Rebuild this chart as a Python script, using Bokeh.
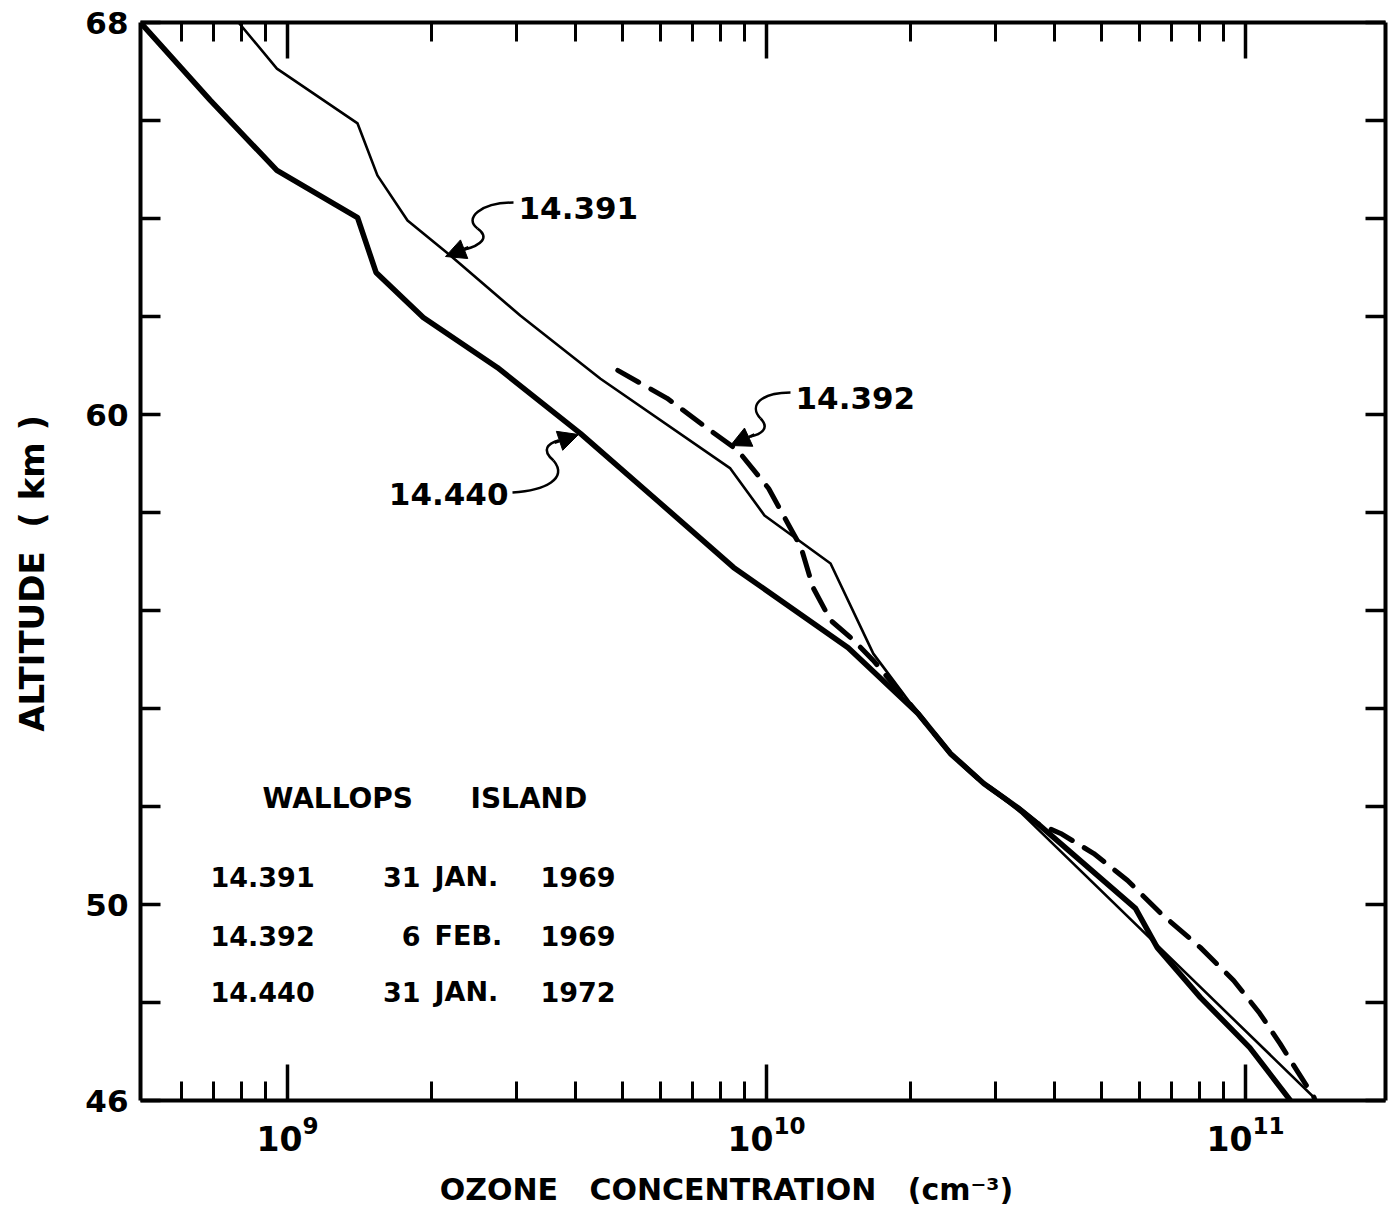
from bokeh.plotting import figure
from bokeh.models import (LogAxis, LinearAxis, FixedTicker, Label, Arrow,
                          NormalHead, Range1d)
from bokeh.embed import file_html
from bokeh.resources import INLINE

# ---------------- data ----------------
alt_391 = [68.0, 67.06, 65.94, 64.88, 63.96, 63.24, 62.02, 60.73, 58.9, 57.94,
           56.96, 55.12, 53.9, 53.08, 52.47, 51.88, 46.0]
conc_391 = [7.9e8, 9.5e8, 1.40e9, 1.54e9, 1.78e9, 2.19e9, 3.06e9, 4.5e9, 8.4e9,
            9.9e9, 1.36e10, 1.67e10, 2.07e10, 2.42e10, 2.84e10, 3.39e10, 1.41e11]

alt_392 = [60.9, 60.33, 59.67, 59.27, 58.49, 57.69, 57.29, 56.47, 55.8, 55.39,
           54.98, 53.9, 53.08, 52.47, 51.98, 51.65, 51.45, 51.04, 50.49, 49.82,
           49.12, 48.45, 47.78, 47.16, 46.61, 46.06]
conc_392 = [4.89e9, 6.2e9, 7.64e9, 8.7e9, 1.01e10, 1.12e10, 1.18e10, 1.25e10,
            1.36e10, 1.52e10, 1.67e10, 2.07e10, 2.42e10, 2.84e10, 3.34e10,
            3.68e10, 4.11e10, 4.82e10, 5.67e10, 6.65e10, 8.05e10, 9.44e10,
            1.07e11, 1.18e11, 1.28e11, 1.39e11]

alt_440 = [68.0, 66.41, 64.98, 64.02, 62.9, 61.98, 60.96, 59.61, 58.24, 56.88,
           55.24, 53.9, 53.08, 52.47, 51.98, 51.65, 49.92, 49.12, 48.1, 47.08, 46.0]
conc_440 = [4.93e8, 6.9e8, 9.5e8, 1.40e9, 1.53e9, 1.92e9, 2.74e9, 4.09e9, 5.92e9,
            8.53e9, 1.48e10, 2.07e10, 2.42e10, 2.84e10, 3.34e10, 3.68e10, 5.89e10,
            6.54e10, 8.05e10, 1.02e11, 1.24e11]

x_major = [1e9, 1e10, 1e11]
y_ticks = [46, 48, 50, 52, 54, 56, 58, 60, 62, 64, 66, 68]
y_labelled = [46, 50, 60, 68]

legend_ids = ["14.391", "14.392", "14.440"]
legend_day = ["31", "6", "31"]
legend_month = ["JAN.", "FEB.", "JAN."]
legend_year = ["1969", "1969", "1972"]

NB = "\u00a0"
# trailing non-breaking spaces shift the centred titles to where they sit in the original
x_title = "OZONE" + NB * 3 + "CONCENTRATION" + NB * 3 + "(cm⁻³)" + NB * 7
y_title = "ALTITUDE" + NB * 2 + "(" + NB + "km" + NB + ")" + NB * 2

# ---------------- layout helpers ----------------
W, H = 1392, 1222
FX0, FX1, FY0, FY1 = 140, 1385, 22, 1100
LOG0, LOG1 = 8.693, 11.292
Y0, Y1 = 46, 68


def px2x(px):
    return 10 ** (LOG0 + (px - FX0) / (FX1 - FX0) * (LOG1 - LOG0))


def py2y(py):
    return Y1 - (py - FY0) / (FY1 - FY0) * (Y1 - Y0)


FONT = "DejaVu Sans"

p = figure(width=W, height=H, x_axis_type="log",
           x_range=Range1d(10 ** LOG0, 10 ** LOG1), y_range=Range1d(Y0, Y1),
           output_backend="svg", toolbar_location=None,
           min_border_left=FX0, min_border_right=W - FX1,
           min_border_top=FY0, min_border_bottom=H - FY1)
p.xgrid.visible = False
p.ygrid.visible = False
p.outline_line_color = None
p.background_fill_color = "white"
p.border_fill_color = "white"

minor_x = [m * 10 ** e for e in (8, 9, 10, 11) for m in range(2, 10)
           if px2x(150) < m * 10 ** e < 10 ** LOG1]
xticker = FixedTicker(ticks=x_major, minor_ticks=minor_x)
yticker = FixedTicker(ticks=y_ticks, minor_ticks=[])


def style(ax, major_in, minor_in):
    ax.axis_line_color = "black"
    ax.axis_line_width = 4
    ax.major_tick_line_color = "black"
    ax.major_tick_line_width = 3.5
    ax.minor_tick_line_color = "black"
    ax.minor_tick_line_width = 3
    ax.major_tick_in = major_in
    ax.major_tick_out = 0
    ax.minor_tick_in = minor_in
    ax.minor_tick_out = 0


# bottom axis (default log formatter: 10 with superscript exponent)
bx = p.xaxis[0]
bx.ticker = xticker
style(bx, 36, 19)
bx.major_label_text_font = FONT
bx.major_label_text_font_style = "bold"
bx.major_label_text_font_size = "33px"
bx.major_label_text_color = "black"
bx.major_label_standoff = 14
bx.axis_label = x_title
bx.axis_label_text_font = FONT
bx.axis_label_text_font_style = "bold"
bx.axis_label_text_font_size = "30px"
bx.axis_label_text_color = "black"
bx.axis_label_standoff = 18

# left axis
ly = p.yaxis[0]
ly.ticker = yticker
style(ly, 20, 0)
ly.major_label_overrides = {t: ("" if t not in y_labelled else str(t)) for t in y_ticks}
ly.major_label_text_font = FONT
ly.major_label_text_font_style = "bold"
ly.major_label_text_font_size = "31px"
ly.major_label_text_color = "black"
ly.major_label_standoff = 12
ly.axis_label = y_title
ly.axis_label_text_font = FONT
ly.axis_label_text_font_style = "bold"
ly.axis_label_text_font_size = "34px"
ly.axis_label_text_color = "black"
ly.axis_label_standoff = 30

# top axis
tx = LogAxis(ticker=xticker)
style(tx, 36, 19)
tx.major_label_overrides = {v: "" for v in x_major}
tx.major_label_text_font_size = "2px"
tx.major_label_standoff = 0
p.add_layout(tx, "above")

# right axis
ry = LinearAxis(ticker=yticker)
style(ry, 20, 0)
ry.major_label_overrides = {t: "" for t in y_ticks}
ry.major_label_text_font_size = "2px"
ry.major_label_standoff = 0
p.add_layout(ry, "right")

# ---------------- curves ----------------
p.line(conc_391, alt_391, line_color="black", line_width=2.6, line_join="round")
p.line(conc_440, alt_440, line_color="black", line_width=5.5, line_join="round")
p.line(conc_392, alt_392, line_color="black", line_width=5, line_dash="24 14",
       line_cap="round", line_join="round")


# ---------------- curve labels with leaders ----------------
def lbl(px, py, txt, size, align="left"):
    p.add_layout(Label(x=px2x(px), y=py2y(py), text=txt, text_align=align,
                       text_baseline="middle", text_font=FONT,
                       text_font_style="bold", text_font_size=size,
                       text_color="black"))


lbl(518, 207, legend_ids[0], "31px")
lbl(795, 397, legend_ids[1], "31px")
lbl(508, 493, legend_ids[2], "31px", align="right")

leaders = [
    [((513, 202), (480, 202), (463, 218), (477, 228)),
     ((477, 228), (490, 237), (480, 245), (464, 249))],
    [((790, 392), (760, 392), (748, 405), (760, 418)),
     ((760, 418), (770, 428), (760, 434), (750, 436))],
    [((512, 492), (545, 490), (568, 478), (553, 460)),
     ((553, 460), (540, 449), (548, 443), (558, 440))],
]
arrows = [((468, 247), (445, 256)), ((754, 434), (730, 445)), ((554, 442), (578, 434))]
for segs in leaders:
    for s, c0, c1, e in segs:
        p.bezier(x0=[px2x(s[0])], y0=[py2y(s[1])], x1=[px2x(e[0])], y1=[py2y(e[1])],
                 cx0=[px2x(c0[0])], cy0=[py2y(c0[1])], cx1=[px2x(c1[0])],
                 cy1=[py2y(c1[1])], line_color="black", line_width=2.5)
for (s, e) in arrows:
    p.add_layout(Arrow(end=NormalHead(size=20, fill_color="black", line_color="black"),
                       x_start=px2x(s[0]), y_start=py2y(s[1]),
                       x_end=px2x(e[0]), y_end=py2y(e[1]),
                       line_color="black", line_width=3))

# ---------------- legend block ----------------
lbl(262, 798, "WALLOPS", "28px")
lbl(470, 798, "ISLAND", "28px")
rows_py = [876, 935, 991]
for i, py in enumerate(rows_py):
    lbl(210, py, legend_ids[i], "27px")
    lbl(420, py, legend_day[i], "27px", align="right")
    lbl(434, py, legend_month[i], "27px")
    lbl(540, py, legend_year[i], "27px")

open("out.html", "w").write(file_html(p, INLINE))
